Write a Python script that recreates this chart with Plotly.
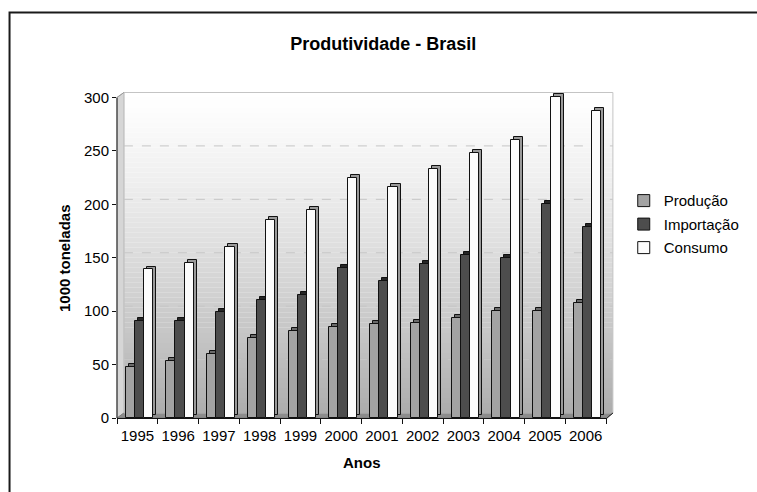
import plotly.graph_objects as go

# Annual series (1000 toneladas)
anos = ["1995", "1996", "1997", "1998", "1999", "2000",
        "2001", "2002", "2003", "2004", "2005", "2006"]
producao = [48, 53, 60, 75, 81, 85, 88, 89, 94, 100, 100, 108]
importacao = [91, 91, 99, 110, 115, 140, 128, 144, 153, 150, 200, 179]
consumo = [139, 145, 160, 185, 195, 225, 216, 233, 248, 260, 300, 287]
y_ticks = [0, 50, 100, 150, 200, 250, 300]

W, H = 757, 492
# axis geometry in pixels: x from PL to PR, value 0 at PB, value 300 at Y300
PL, PR, PB, Y300 = 117, 613, 418, 97
YMAX = 300
YTOP = 307                       # a little headroom for the bar tops
k = (PB - Y300) / YMAX           # pixels per unit
PT = PB - YTOP * k
pw, ph = PR - PL, PB - PT


def px(x):
    return (x - PL) / pw


def py(y):
    return (PB - y) / ph


# depth offset of the back wall (pixels)
DX, DY = 7, 5
cat_px = pw / len(anos)

series = [
    ("Produção", producao, "#a3a3a3", "#6a6a6a", -0.29),
    ("Importação", importacao, "#4d4d4d", "#262626", -0.065),
    ("Consumo", consumo, "#fcfcfc", "#9a9a9a", 0.16),
]
BW = 0.225
SX = 3 / cat_px          # extrusion, category units
SY = 3 / k               # extrusion, value units

fig = go.Figure()

# extruded sides/tops drawn first so the front faces sit on top
for name, vals, col, side, off in series:
    fig.add_trace(go.Bar(
        x=anos, y=vals, base=SY, offset=off + SX, width=BW,
        marker=dict(color=side, line=dict(color="#111111", width=1)),
        showlegend=False, hoverinfo="skip",
    ))

for name, vals, col, side, off in series:
    fig.add_trace(go.Bar(
        x=anos, y=vals, name=name, offset=off, width=BW,
        legendgroup=name,
        marker=dict(color=col, line=dict(color="#111111", width=1)),
    ))

shapes = []
# back wall with vertical gradient
n = 64
wx0, wx1 = PL + DX, PR + DX
wy0, wy1 = Y300 - DY, PB - DY
for i in range(n):
    t0 = i / n
    t1 = (i + 1) / n
    tm = (t0 + t1) / 2
    c = int(round(255 - 82 * tm ** 1.25))
    shapes.append(dict(
        type="rect", xref="paper", yref="paper", layer="below",
        x0=px(wx0), x1=px(wx1),
        y0=py(wy0 + (wy1 - wy0) * t1), y1=py(wy0 + (wy1 - wy0) * t0),
        fillcolor=f"rgb({c},{c},{c})", line=dict(width=0),
    ))
# left side wall
shapes.append(dict(
    type="path", xref="paper", yref="paper", layer="below",
    path=(f"M{px(PL)},{py(Y300)} L{px(wx0)},{py(wy0)} "
          f"L{px(wx0)},{py(wy1)} L{px(PL)},{py(PB)} Z"),
    fillcolor="#d6d6d6", line=dict(color="#bdbdbd", width=1),
))
# floor
shapes.append(dict(
    type="path", xref="paper", yref="paper", layer="below",
    path=(f"M{px(PL)},{py(PB)} L{px(wx0)},{py(wy1)} "
          f"L{px(wx1)},{py(wy1)} L{px(PR)},{py(PB)} Z"),
    fillcolor="#8c8c8c", line=dict(color="#7a7a7a", width=1),
))
# wall outline
shapes.append(dict(
    type="rect", xref="paper", yref="paper", layer="below",
    x0=px(wx0), x1=px(wx1), y0=py(wy1), y1=py(wy0),
    fillcolor="rgba(0,0,0,0)", line=dict(color="#c4c4c4", width=1),
))
# dashed gridlines on the back wall
for v in y_ticks[1:-1]:
    shapes.append(dict(
        type="line", xref="paper", yref="y", layer="below",
        x0=px(wx0), x1=px(wx1), y0=v + DY / k, y1=v + DY / k,
        line=dict(color="#c6c6c6", width=1, dash="dash"),
    ))
# value axis line (0 to 300) with its little 3D corner at the top
shapes.append(dict(
    type="line", xref="paper", yref="y", layer="above",
    x0=0, x1=0, y0=0, y1=YMAX,
    line=dict(color="#111111", width=1),
))
shapes.append(dict(
    type="line", xref="paper", yref="paper", layer="above",
    x0=px(PL), x1=px(wx0), y0=py(Y300), y1=py(wy0),
    line=dict(color="#9a9a9a", width=1),
))
# right corner of the floor
shapes.append(dict(
    type="line", xref="paper", yref="paper", layer="above",
    x0=px(PR), x1=px(wx1), y0=py(PB + 1), y1=py(wy1),
    line=dict(color="#111111", width=1),
))
# outer chart frame
shapes.append(dict(
    type="rect", xref="paper", yref="paper", layer="above",
    x0=px(8), x1=px(W + 20), y0=py(H + 20), y1=py(12),
    fillcolor="rgba(0,0,0,0)", line=dict(color="#1a1a1a", width=2),
))

annotations = [
    dict(text="<b>1000 toneladas</b>", xref="paper", yref="paper",
         x=px(63), y=py(258), xanchor="center", yanchor="middle",
         textangle=-90, showarrow=False,
         font=dict(size=15, color="#000000")),
    dict(text="<b>Anos</b>", xref="paper", yref="paper",
         x=px(366), y=py(463), xanchor="center", yanchor="middle",
         showarrow=False, font=dict(size=15, color="#000000")),
]

fig.update_layout(
    width=W, height=H,
    margin=dict(l=PL, r=W - PR, t=PT, b=H - PB),
    paper_bgcolor="white", plot_bgcolor="rgba(0,0,0,0)",
    font=dict(family="Liberation Sans, Arial, sans-serif", size=15, color="#000000"),
    title=dict(text="<b>Produtividade - Brasil</b>", x=px(387), xref="paper",
               xanchor="center", y=1 - 44 / H, yref="container", yanchor="middle",
               font=dict(size=18, color="#000000")),
    barmode="overlay",
    showlegend=True,
    legend=dict(x=px(631), y=py(184), xanchor="left", yanchor="top",
                bgcolor="rgba(0,0,0,0)", font=dict(size=15),
                traceorder="grouped", tracegroupgap=1, itemwidth=30),
    shapes=shapes,
    annotations=annotations,
    bargap=0,
)

fig.update_xaxes(
    type="category", range=[-0.5, len(anos) - 0.5],
    showline=True, linecolor="#111111", linewidth=1,
    ticks="outside", tickson="boundaries", ticklen=5, tickcolor="#111111",
    tickangle=0, tickfont=dict(size=15), ticklabelstandoff=4,
    showgrid=False, zeroline=False, fixedrange=True,
)
fig.update_yaxes(
    range=[0, YTOP], tickvals=y_ticks,
    showline=False,
    ticks="outside", ticklen=4, tickcolor="#111111",
    showgrid=False, zeroline=False, fixedrange=True,
)

fig.write_html("out.html")
